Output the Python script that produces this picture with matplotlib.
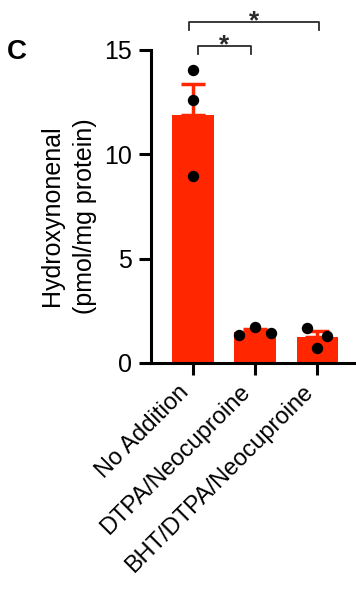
import numpy as np
import matplotlib
matplotlib.use('Agg')
import matplotlib.pyplot as plt

plt.rcParams['font.family'] = ['Liberation Sans', 'DejaVu Sans']

groups = ['No Addition', 'DTPA/Neocuproine', 'BHT/DTPA/Neocuproine']
replicates = [
    [14.04, 12.60, 8.97],
    [1.33, 1.72, 1.42],
    [1.69, 0.73, 1.29],
]
jitter = [
    [0.0, 0.0, 0.0],
    [-0.26, 0.0, 0.26],
    [-0.16, 0.0, 0.15],
]
# significance brackets: (left, right, height, label)
brackets = [(0.08, 0.93, 15.2, '*'), (-0.06, 2.02, 16.35, '*')]

red = '#ff2600'
x = np.arange(len(groups))
means = np.array([np.mean(r) for r in replicates])
sems = np.array([np.std(r, ddof=1) / np.sqrt(len(r)) for r in replicates])

fig = plt.figure(figsize=(3.56, 5.94), dpi=100)
ax = fig.add_axes([0.424, 0.389, 0.576, 0.527])

ax.bar(x, means, width=0.67, color=red, zorder=2)
ax.errorbar(x, means, yerr=[np.zeros_like(sems), sems], fmt='none',
            ecolor=red, elinewidth=2.5, capsize=8.5, capthick=2.5, zorder=3)
for i, vals in enumerate(replicates):
    ax.plot(x[i] + np.array(jitter[i]), vals, 'o', color='black',
            markersize=7.2, zorder=4, clip_on=False)

ax.set_xlim(-0.672, 2.62)
ax.set_ylim(0, 15)
ax.set_yticks([0, 5, 10, 15])
ax.set_xticks(x)
ax.set_xticklabels(groups, rotation=45, ha='right', va='bottom',
                   rotation_mode='anchor')
ax.tick_params(axis='both', width=2.2, length=8.5, labelsize=18, pad=5)
ax.tick_params(axis='x', labelsize=17, pad=16)
for side in ['top', 'right']:
    ax.spines[side].set_visible(False)
for side in ['left', 'bottom']:
    ax.spines[side].set_linewidth(2.2)
ax.set_ylabel('Hydroxynonenal\n(pmol/mg protein)', fontsize=18,
              linespacing=1.45)
ax.yaxis.set_label_coords(-0.265, 0.47)

for x0, x1, y, label in brackets:
    ax.plot([x0, x0, x1, x1], [y - 0.4, y, y, y - 0.4], color='#2a2a2a',
            lw=1.3, clip_on=False)
    ax.text((x0 + x1) / 2, y - 0.3, label, ha='center', va='baseline',
            fontsize=19, fontweight='bold', color='#2a2a2a')

fig.text(0.02, 0.912, 'C', fontsize=20, fontweight='bold', va='center')

fig.savefig('out.png', dpi=100)
